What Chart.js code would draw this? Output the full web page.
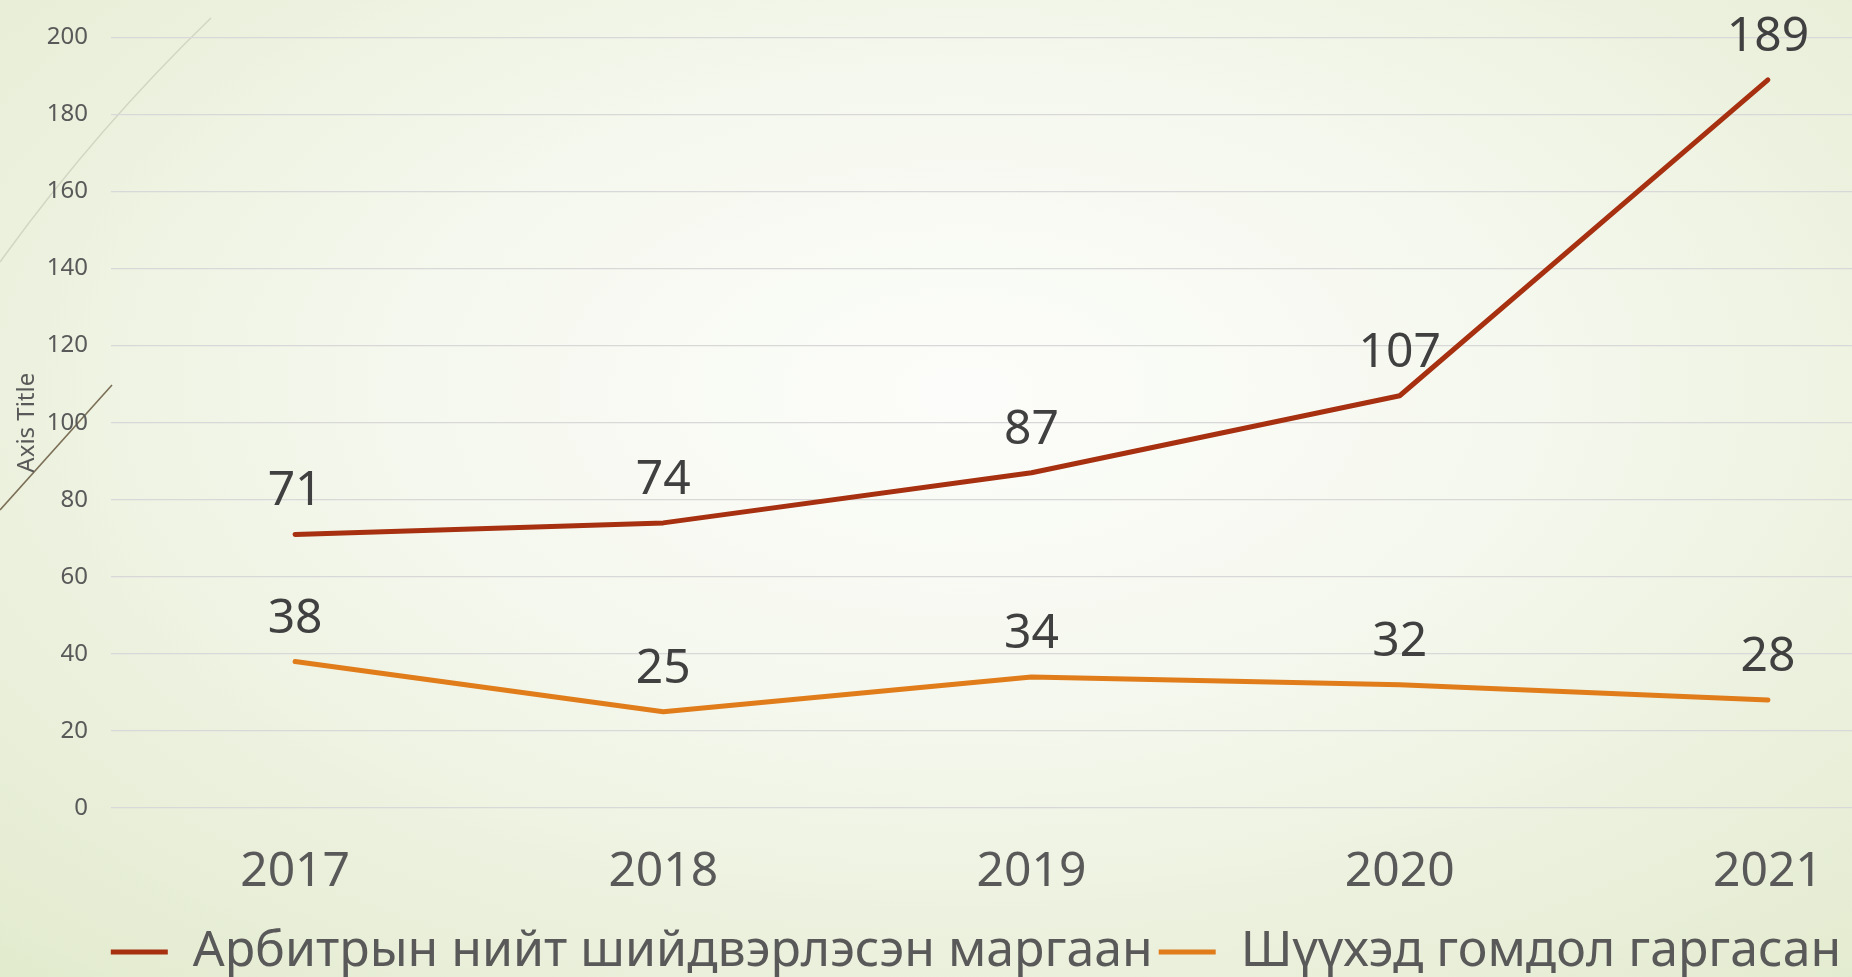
<!DOCTYPE html>
<html>
<head>
<meta charset="utf-8">
<script src="https://cdn.jsdelivr.net/npm/chart.js@4"></script>
<style>
    html, body {
        margin: 0;
        padding: 0;
        width: 1852px;
        height: 977px;
        overflow: hidden;
        background: radial-gradient(ellipse 75% 80% at 52% 40%, #fcfdfa 0%, #f5f8ee 40%, #e9efd9 80%, #e3ebcf 100%);
    }
    #deco { position: absolute; left: 0; top: 0; }
    #wrap { position: absolute; left: 0; top: 0; width: 1952px; height: 977px; }
</style>
</head>
<body>
<svg id="deco" width="260" height="560">
    <path d="M0 262 Q 95 130 211 18" stroke="#d2d6c3" stroke-width="1.6" fill="none"/>
    <path d="M0 510 L 112 385" stroke="#7b6f56" stroke-width="1.6" fill="none"/>
</svg>
<div id="wrap"><canvas id="chart"></canvas></div>
<script>
// ---- data ----
const years = ["2017", "2018", "2019", "2020", "2021"];
const resolvedDisputes = [71, 74, 87, 107, 189];
const courtAppeals = [38, 25, 34, 32, 28];
const seriesNames = ["Арбитрын нийт шийдвэрлэсэн маргаан", "Шүүхэд гомдол гаргасан"];
const yTicks = { min: 0, max: 200, step: 20 };

const FONT = "'Noto Sans', 'DejaVu Sans', sans-serif";

// value labels above each point
const valueLabels = {
    id: "valueLabels",
    afterDatasetsDraw(chart) {
        const ctx = chart.ctx;
        ctx.save();
        ctx.font = `48px ${FONT}`;
        ctx.fillStyle = "#404040";
        ctx.textAlign = "center";
        ctx.textBaseline = "alphabetic";
        chart.data.datasets.forEach((ds, i) => {
            chart.getDatasetMeta(i).data.forEach((pt, j) => {
                ctx.fillText(String(ds.data[j]), pt.x, pt.y - 29);
            });
        });
        ctx.restore();
    }
};

new Chart(document.getElementById("chart"), {
    type: "line",
    data: {
        labels: years,
        datasets: [
            {
                label: seriesNames[0],
                data: resolvedDisputes,
                borderColor: "#a6300f",
                backgroundColor: "#a6300f",
                borderWidth: 5,
                borderCapStyle: "round",
                borderJoinStyle: "round",
                pointRadius: 0,
                pointStyle: "line",
                tension: 0
            },
            {
                label: seriesNames[1],
                data: courtAppeals,
                borderColor: "#e07c1a",
                backgroundColor: "#e07c1a",
                borderWidth: 5,
                borderCapStyle: "round",
                borderJoinStyle: "round",
                pointRadius: 0,
                pointStyle: "line",
                tension: 0
            }
        ]
    },
    options: {
        responsive: true,
        maintainAspectRatio: false,
        animation: false,
        layout: { padding: { top: 35, right: 0, bottom: -10, left: 0 } },
        plugins: {
            legend: {
                position: "bottom",
                labels: {
                    usePointStyle: true,
                    pointStyleWidth: 57,
                    padding: 6,
                    color: "#595959",
                    font: { family: FONT, size: 50 }
                }
            },
            tooltip: { enabled: false }
        },
        scales: {
            x: {
                offset: true,
                grid: { display: false, drawTicks: false },
                border: { display: false },
                ticks: { color: "#595959", padding: 36, font: { family: FONT, size: 48 } },
                afterFit(scale) { scale.height = 113; }
            },
            y: {
                min: yTicks.min,
                max: yTicks.max,
                grid: { color: "#d8d8d8", lineWidth: 1.3, drawTicks: false },
                border: { display: false },
                ticks: {
                    stepSize: yTicks.step,
                    color: "#595959",
                    padding: 23,
                    font: { family: FONT, size: 24 }
                },
                title: {
                    display: true,
                    text: "Axis Title",
                    color: "#595959",
                    padding: { top: 13, bottom: 0 },
                    font: { family: FONT, size: 24 }
                },
                afterFit(scale) { scale.width = 111; }
            }
        }
    },
    plugins: [valueLabels]
});
</script>
</body>
</html>
